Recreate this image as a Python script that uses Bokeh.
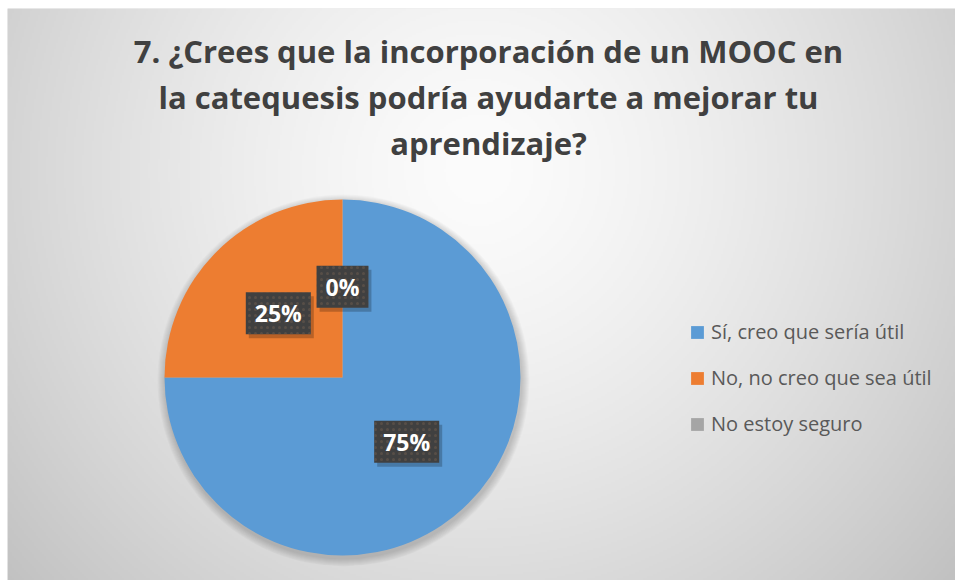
import numpy as np
from bokeh.plotting import figure
from bokeh.models import ColumnDataSource, Legend, LegendItem
from bokeh.core.properties import value
from bokeh.embed import file_html
from bokeh.resources import INLINE

# ---- data ----
title_lines = ["7. ¿Crees que la incorporación de un MOOC en",
               "la catequesis podría ayudarte a mejorar tu",
               "aprendizaje?"]
categories = ["Sí, creo que sería útil", "No, no creo que sea útil", "No estoy seguro"]
percent = [75, 25, 0]
colors = ["#5B9BD5", "#ED7D31", "#A5A5A5"]

W, H = 948, 572
CX, CY, R = 335, 203, 178

p = figure(width=955, height=580, x_range=(0, W), y_range=(0, H),
           output_backend="svg", toolbar_location=None,
           min_border_left=7, min_border_top=8, min_border_right=0, min_border_bottom=0)
p.axis.visible = False
p.grid.visible = False
p.outline_line_color = None
p.background_fill_color = "#dddddd"
p.border_fill_color = "white"

# background radial gradient (decoration)
sx, sy = 2, 2
gx = np.arange(0, W, sx) + sx / 2
gy = np.arange(0, H, sy) + sy / 2
XX, YY = np.meshgrid(gx, gy)
d = np.sqrt((XX - 471) ** 2 + (YY - 410) ** 2)
v = 252 - 58 * np.clip(d / 620, 0, 1.2) ** 1.4
v = np.clip(v, 0, 255).astype(np.uint32)
img = (255 << 24) | (v << 16) | (v << 8) | v
p.image_rgba(image=[img.astype(np.uint32)], x=0, y=0, dw=W, dh=H)

# soft shadow behind the pie
for k in range(1, 9):
    p.circle(x=CX + 1, y=CY - 3, radius=R + k, fill_color="black",
             fill_alpha=0.025, line_color=None)

# wedges (one renderer per category; zero slices get zero radius)
total = float(sum(percent))
cum = np.cumsum([0] + percent)
TWO_PI = 2 * np.pi
start = [(np.pi / 2 - TWO_PI * cum[i] / total) % TWO_PI for i in range(len(percent))]
end = [(np.pi / 2 - TWO_PI * cum[i + 1] / total) % TWO_PI for i in range(len(percent))]
mid = [np.pi / 2 - TWO_PI * (cum[i] + percent[i] / 2) / total for i in range(len(percent))]

items = []
for i, cat in enumerate(categories):
    sub = dict(start=[start[i]], end=[end[i]], rad=[R if percent[i] > 0 else 0])
    r = p.wedge(x=CX, y=CY, radius="rad", start_angle="start", end_angle="end",
                direction="clock", fill_color=colors[i], line_color=None,
                source=ColumnDataSource(sub))
    items.append(LegendItem(label=cat, renderers=[r]))

lab_src = ColumnDataSource(dict(
    lx=[CX + 0.51 * R * np.cos(m) for m in mid],
    ly=[CY + 0.51 * R * np.sin(m) for m in mid],
    lab=[f"{v}%" for v in percent],
))

# data labels: shadow + box
p.text(x="lx", y="ly", text="lab", source=lab_src, text_alpha=0,
       text_font=value("Open Sans"), text_font_style="bold", text_font_size="23px",
       text_align="center", text_baseline="middle", x_offset=3, y_offset=4,
       background_fill_color="black", background_fill_alpha=0.22, padding=[9, 5])
p.text(x="lx", y="ly", text="lab", source=lab_src, text_color="white",
       text_font=value("Open Sans"), text_font_style="bold", text_font_size="23px",
       text_align="center", text_baseline="middle",
       background_fill_color="#404040", background_hatch_pattern="dot",
       background_hatch_color="#6a5a4c", background_hatch_alpha=0.55,
       background_hatch_scale=6, background_hatch_weight=1.0, padding=[9, 5])

# title
ty = [530, 484, 438]
p.text(x=[481] * 3, y=ty, text=title_lines, text_color="#404040",
       text_font=value("Open Sans"), text_font_style="bold", text_font_size="31px",
       text_align="center", text_baseline="alphabetic")

# legend
leg = Legend(items=items, location=(682, 143), orientation="vertical",
             label_text_font="Open Sans", label_text_font_size="20px",
             label_text_color="#595959", glyph_width=16, glyph_height=16,
             label_standoff=6, spacing=19, padding=0, margin=0,
             background_fill_alpha=0, border_line_color=None)
p.add_layout(leg)

open("out.html", "w").write(file_html(p, INLINE))
